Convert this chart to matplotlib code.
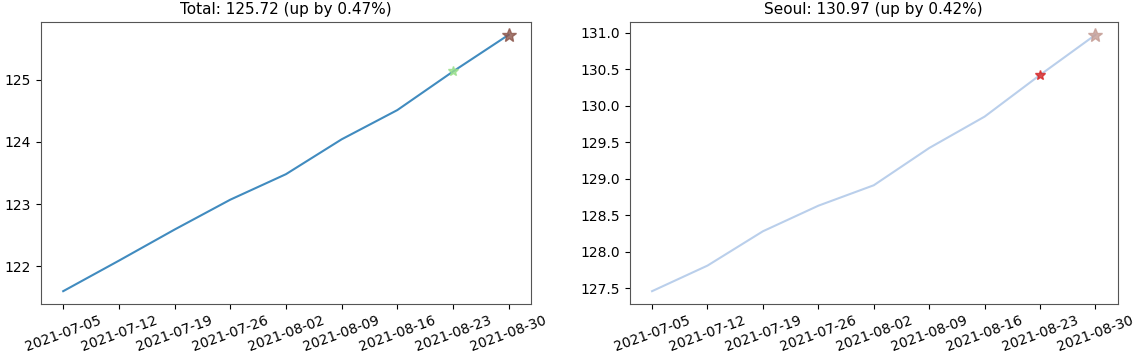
import matplotlib
matplotlib.use("Agg")
import matplotlib.pyplot as plt
import matplotlib.dates as mdates
import pandas as pd

dates = ["2021-07-05", "2021-07-12", "2021-07-19", "2021-07-26", "2021-08-02",
         "2021-08-09", "2021-08-16", "2021-08-23", "2021-08-30"]
total = [121.60, 122.09, 122.59, 123.07, 123.48, 124.04, 124.51, 125.13, 125.72]
seoul = [127.46, 127.81, 128.28, 128.63, 128.91, 129.42, 129.85, 130.42, 130.97]

titles = ["Total: 125.72 (up by 0.47%)", "Seoul: 130.97 (up by 0.42%)"]
line_colors = ["#1f77b4", "#aec7e8"]
prev_star_colors = ["#98df8a", "#d62728"]
last_star_colors = ["#8c564b", "#c49c94"]

x = pd.to_datetime(dates)

fig = plt.figure(figsize=(11.37, 3.57), dpi=100)
rects = [[0.036, 0.1485, 0.431, 0.790], [0.554, 0.1485, 0.429, 0.790]]

for i, vals in enumerate([total, seoul]):
    ax = fig.add_axes(rects[i])
    ax.plot(x, vals, color=line_colors[i], lw=1.5, alpha=0.85)
    ax.plot(x[-2], vals[-2], marker="*", ms=7, color=prev_star_colors[i], alpha=0.8, ls="none")
    ax.plot(x[-1], vals[-1], marker="*", ms=10, color=last_star_colors[i], alpha=0.8, ls="none")
    ax.set_title(titles[i], fontsize=11)
    ax.set_xticks(x)
    ax.xaxis.set_major_formatter(mdates.DateFormatter("%Y-%m-%d"))
    ax.tick_params(axis="x", labelrotation=20, labelsize=10)
    ax.tick_params(axis="y", labelsize=10)
    for lab in ax.get_xticklabels():
        lab.set_ha("center")
    for s in ax.spines.values():
        s.set_color("#555555")

fig.savefig("out.png", dpi=100)
